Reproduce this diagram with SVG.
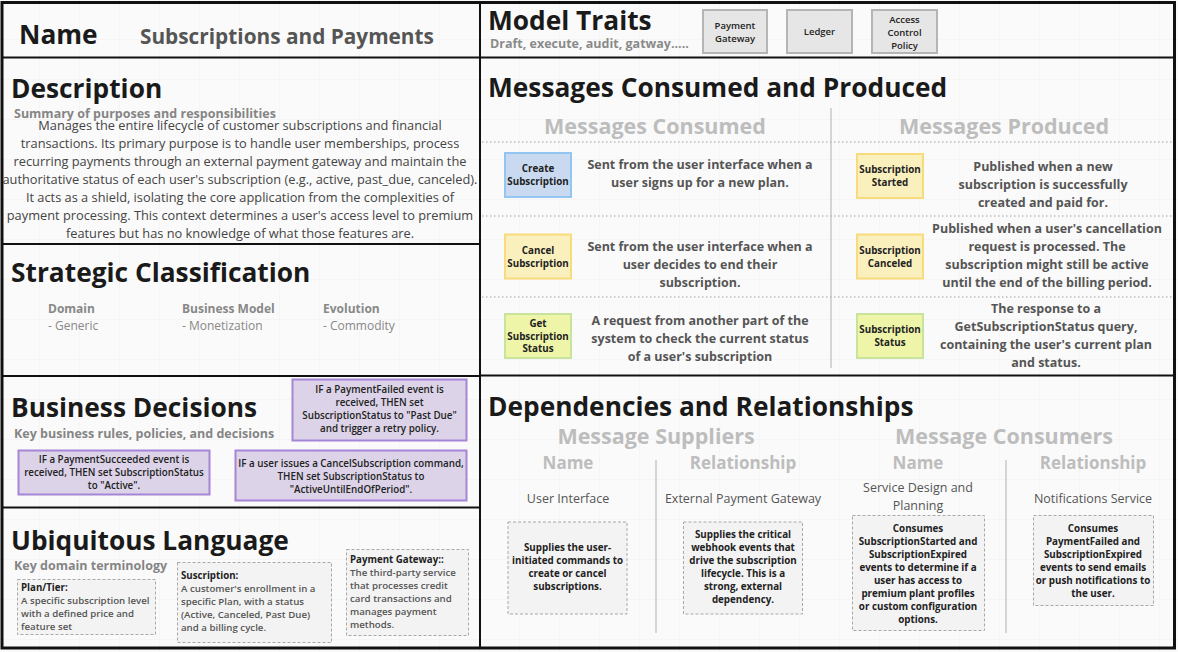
<svg xmlns="http://www.w3.org/2000/svg" width="1178" height="652" viewBox="0 0 1178 652">
  <defs>
    <pattern id="grid" width="40" height="40" patternUnits="userSpaceOnUse">
      <path d="M40 0V40M0 40H40" fill="none" stroke="#f1f1f1" stroke-width="1"/>
    </pattern>
    <style>
      text { font-family: "Open Sans", "Noto Sans", "DejaVu Sans", sans-serif; }
      .title { font-size: 26.3px; font-weight: 700; fill: #1a1a1a; }
      .sub { font-size: 12.5px; font-weight: 700; fill: #858585; }
      .ghost { font-size: 21.5px; font-weight: 700; fill: #bdbdbd; text-anchor: middle; }
      .ghost2 { font-size: 17px; font-weight: 700; fill: #bdbdbd; text-anchor: middle; }
      .body { font-size: 12.8px; fill: #444; text-anchor: middle; }
      .msg { font-size: 12.5px; font-weight: 700; fill: #555; text-anchor: middle; }
      .tag { font-size: 9.8px; font-weight: 700; fill: #222; text-anchor: middle; }
      .rule { font-size: 9.8px; font-weight: 600; fill: #222; text-anchor: middle; }
      .term { font-size: 9.7px; font-weight: 600; fill: #555; }
      .termh { font-size: 9.7px; font-weight: 700; fill: #222; }
      .dep { font-size: 9.8px; font-weight: 700; fill: #222; text-anchor: middle; }
      .depname { font-size: 12.5px; fill: #555; text-anchor: middle; }
      .cls { font-size: 12px; font-weight: 700; fill: #888; }
      .clsv { font-size: 12px; fill: #888; }
      .trait { fill: #e6e6e6; stroke: #b5b5b5; stroke-width: 2; }
      .trait-t { font-size: 9.5px; font-weight: 600; fill: #222; text-anchor: middle; }
      .decision { fill: #dcd3e8; stroke: #a585d6; stroke-width: 2; }
      .note { fill: #f3f3f3; stroke: #a8a8a8; stroke-width: 1; stroke-dasharray: 3 2; }
      .blue { fill: #c9daf0; stroke: #92c5f0; stroke-width: 2; }
      .yellow { fill: #faf0bd; stroke: #f8dc7c; stroke-width: 2; }
      .green { fill: #eef5a9; stroke: #c6e49c; stroke-width: 2; }
      .frame { fill: none; stroke: #111; stroke-width: 2; }
      .dots { stroke: #bcbcbc; stroke-width: 1.5; stroke-dasharray: 1.5 2.5; }
      .vdiv { stroke: #c8c8c8; stroke-width: 1.5; }
    </style>
  </defs>

  <!-- canvas -->
  <rect x="0" y="0" width="1178" height="652" fill="#fafafa"/>
  <rect x="0" y="0" width="1178" height="652" fill="url(#grid)"/>

  <!-- panel frame and dividers -->
  <g id="frame">
    <rect x="2" y="2.5" width="1172.5" height="645.5" fill="none" stroke="#111" stroke-width="3"/>
    <line class="frame" x1="480" y1="2" x2="480" y2="648"/>
    <line class="frame" x1="2" y1="57.5" x2="1175" y2="57.5"/>
    <line class="frame" x1="2" y1="244" x2="480" y2="244"/>
    <line class="frame" x1="2" y1="376" x2="480" y2="376"/>
    <line class="frame" x1="2" y1="507.5" x2="480" y2="507.5"/>
    <line class="frame" x1="480" y1="375.5" x2="1175" y2="375.5"/>
  </g>

  <!-- name -->
  <g id="name">
    <text class="title" x="19" y="44">Name</text>
    <text x="140" y="44" font-size="20.8" font-weight="700" fill="#555">Subscriptions and Payments</text>
  </g>

  <!-- model traits -->
  <g id="model-traits">
    <text class="title" x="488" y="30">Model Traits</text>
    <text x="490" y="48" font-size="12.5" font-weight="700" fill="#8a8a8a">Draft, execute, audit, gatway.....</text>
    <g id="trait-payment-gateway">
      <rect class="trait" x="703" y="10" width="64" height="43"/>
      <text class="trait-t" x="735" y="29">Payment</text>
      <text class="trait-t" x="735" y="42">Gateway</text>
    </g>
    <g id="trait-ledger">
      <rect class="trait" x="787" y="10" width="65" height="43"/>
      <text class="trait-t" x="819.5" y="35">Ledger</text>
    </g>
    <g id="trait-access-control">
      <rect class="trait" x="872" y="10" width="65" height="43"/>
      <text class="trait-t" x="904.5" y="23">Access</text>
      <text class="trait-t" x="904.5" y="36">Control</text>
      <text class="trait-t" x="904.5" y="49">Policy</text>
    </g>
  </g>

  <!-- description -->
  <g id="description">
    <text class="title" x="11" y="98">Description</text>
    <text class="sub" x="14" y="118">Summary of purposes and responsibilities</text>
    <text class="body" x="240" y="130">Manages the entire lifecycle of customer subscriptions and financial</text>
    <text class="body" x="240" y="148">transactions. Its primary purpose is to handle user memberships, process</text>
    <text class="body" x="240" y="166">recurring payments through an external payment gateway and maintain the</text>
    <text class="body" x="240" y="184">authoritative status of each user's subscription (e.g., active, past_due, canceled).</text>
    <text class="body" x="240" y="202">It acts as a shield, isolating the core application from the complexities of</text>
    <text class="body" x="240" y="220">payment processing. This context determines a user's access level to premium</text>
    <text class="body" x="240" y="238">features but has no knowledge of what those features are.</text>
  </g>

  <!-- strategic classification -->
  <g id="strategic-classification">
    <text class="title" x="11" y="282">Strategic Classification</text>
    <text class="cls" x="48" y="313">Domain</text>
    <text class="clsv" x="48" y="330">- Generic</text>
    <text class="cls" x="182" y="313">Business Model</text>
    <text class="clsv" x="182" y="330">- Monetization</text>
    <text class="cls" x="323" y="313">Evolution</text>
    <text class="clsv" x="323" y="330">- Commodity</text>
  </g>

  <!-- business decisions -->
  <g id="business-decisions">
    <text class="title" x="11" y="417">Business Decisions</text>
    <text class="sub" x="14" y="438">Key business rules, policies, and decisions</text>
  </g>
  <g id="rule-payment-failed">
    <rect class="decision" x="292.5" y="379.5" width="174" height="61"/>
    <text class="rule" x="379.5" y="393">IF a PaymentFailed event is</text>
    <text class="rule" x="379.5" y="406">received, THEN set</text>
    <text class="rule" x="379.5" y="419">SubscriptionStatus to "Past Due"</text>
    <text class="rule" x="379.5" y="432">and trigger a retry policy.</text>
  </g>
  <g id="rule-payment-succeeded">
    <rect class="decision" x="18.5" y="450.5" width="191" height="44"/>
    <text class="rule" x="114" y="463">IF a PaymentSucceeded event is</text>
    <text class="rule" x="114" y="476">received, THEN set SubscriptionStatus</text>
    <text class="rule" x="114" y="489">to "Active".</text>
  </g>
  <g id="rule-cancel">
    <rect class="decision" x="235.5" y="450.5" width="231" height="50"/>
    <text class="rule" x="351" y="467">IF a user issues a CancelSubscription command,</text>
    <text class="rule" x="351" y="480">THEN set SubscriptionStatus to</text>
    <text class="rule" x="351" y="493">"ActiveUntilEndOfPeriod".</text>
  </g>

  <!-- ubiquitous language -->
  <g id="ubiquitous-language">
    <text class="title" x="11" y="550">Ubiquitous Language</text>
    <text class="sub" x="14" y="570">Key domain terminology</text>
  </g>
  <g id="term-plan">
    <rect class="note" x="17.5" y="579.5" width="138" height="55"/>
    <text class="termh" x="21" y="591">Plan/Tier:</text>
    <text class="term" x="21" y="604">A specific subscription level</text>
    <text class="term" x="21" y="617">with a defined price and</text>
    <text class="term" x="21" y="630">feature set</text>
  </g>
  <g id="term-subscription">
    <rect class="note" x="177.5" y="562.5" width="154" height="80"/>
    <text class="termh" x="181" y="579">Suscription:</text>
    <text class="term" x="181" y="592">A customer's enrollment in a</text>
    <text class="term" x="181" y="605">specific Plan, with a status</text>
    <text class="term" x="181" y="618">(Active, Canceled, Past Due)</text>
    <text class="term" x="181" y="631">and a billing cycle.</text>
  </g>
  <g id="term-payment-gateway">
    <rect class="note" x="346.5" y="549.5" width="122" height="86"/>
    <text class="termh" x="350" y="563">Payment Gateway::</text>
    <text class="term" x="350" y="576">The third-party service</text>
    <text class="term" x="350" y="589">that processes credit</text>
    <text class="term" x="350" y="602">card transactions and</text>
    <text class="term" x="350" y="615">manages payment</text>
    <text class="term" x="350" y="628">methods.</text>
  </g>

  <!-- messages consumed and produced -->
  <g id="messages">
    <text class="title" x="488" y="97">Messages Consumed and Produced</text>
    <text class="ghost" x="655" y="134">Messages Consumed</text>
    <text class="ghost" x="1004" y="134">Messages Produced</text>
  </g>
  <g id="connectors">
    <line class="vdiv" x1="831" y1="108" x2="831" y2="368"/>
    <line class="dots" x1="482" y1="142" x2="1173" y2="142"/>
    <line class="dots" x1="482" y1="216" x2="1173" y2="216"/>
    <line class="dots" x1="482" y1="297" x2="1173" y2="297"/>
    <line class="vdiv" x1="656" y1="460" x2="656" y2="633"/>
    <line class="vdiv" x1="1006" y1="460" x2="1006" y2="633"/>
  </g>

  <g id="msg-create-subscription">
    <rect class="blue" x="505" y="153" width="66" height="44"/>
    <text class="tag" x="538" y="172">Create</text>
    <text class="tag" x="538" y="184.5">Subscription</text>
    <text class="msg" x="700" y="169">Sent from the user interface when a</text>
    <text class="msg" x="700" y="187">user signs up for a new plan.</text>
  </g>
  <g id="msg-cancel-subscription">
    <rect class="yellow" x="505" y="234.5" width="66" height="44"/>
    <text class="tag" x="538" y="254">Cancel</text>
    <text class="tag" x="538" y="266.5">Subscription</text>
    <text class="msg" x="700" y="251">Sent from the user interface when a</text>
    <text class="msg" x="700" y="269">user decides to end their</text>
    <text class="msg" x="700" y="287">subscription.</text>
  </g>
  <g id="msg-get-subscription-status">
    <rect class="green" x="505" y="314" width="66" height="44"/>
    <text class="tag" x="538" y="327">Get</text>
    <text class="tag" x="538" y="340">Subscription</text>
    <text class="tag" x="538" y="352">Status</text>
    <text class="msg" x="700" y="325">A request from another part of the</text>
    <text class="msg" x="700" y="343">system to check the current status</text>
    <text class="msg" x="700" y="361">of a user's subscription</text>
  </g>

  <g id="msg-subscription-started">
    <rect class="yellow" x="857" y="154" width="66" height="44"/>
    <text class="tag" x="890" y="173">Subscription</text>
    <text class="tag" x="890" y="186">Started</text>
    <text class="msg" x="1043" y="171">Published when a new</text>
    <text class="msg" x="1043" y="189">subscription is successfully</text>
    <text class="msg" x="1043" y="207">created and paid for.</text>
  </g>
  <g id="msg-subscription-canceled">
    <rect class="yellow" x="857" y="234.5" width="66" height="44"/>
    <text class="tag" x="890" y="254">Subscription</text>
    <text class="tag" x="890" y="267">Canceled</text>
    <text class="msg" x="1047" y="233">Published when a user's cancellation</text>
    <text class="msg" x="1047" y="251">request is processed. The</text>
    <text class="msg" x="1047" y="269">subscription might still be active</text>
    <text class="msg" x="1047" y="287">until the end of the billing period.</text>
  </g>
  <g id="msg-subscription-status">
    <rect class="green" x="857" y="314" width="66" height="44"/>
    <text class="tag" x="890" y="333">Subscription</text>
    <text class="tag" x="890" y="346">Status</text>
    <text class="msg" x="1046" y="313">The response to a</text>
    <text class="msg" x="1046" y="331">GetSubscriptionStatus query,</text>
    <text class="msg" x="1046" y="349">containing the user's current plan</text>
    <text class="msg" x="1046" y="367">and status.</text>
  </g>

  <!-- dependencies and relationships -->
  <g id="dependencies">
    <text class="title" x="488" y="416">Dependencies and Relationships</text>
    <text class="ghost" x="656" y="444">Message Suppliers</text>
    <text class="ghost" x="1004" y="444">Message Consumers</text>
    <text class="ghost2" x="568" y="469">Name</text>
    <text class="ghost2" x="743" y="469">Relationship</text>
    <text class="ghost2" x="918" y="469">Name</text>
    <text class="ghost2" x="1093" y="469">Relationship</text>
  </g>
  <g id="supplier-user-interface">
    <text class="depname" x="568" y="503">User Interface</text>
    <rect class="note" x="508" y="522" width="119" height="92"/>
    <text class="dep" x="567.5" y="551">Supplies the user-</text>
    <text class="dep" x="567.5" y="564">initiated commands to</text>
    <text class="dep" x="567.5" y="577">create or cancel</text>
    <text class="dep" x="567.5" y="590">subscriptions.</text>
  </g>
  <g id="supplier-payment-gateway">
    <text class="depname" x="743" y="503">External Payment Gateway</text>
    <rect class="note" x="683.5" y="522" width="119" height="92"/>
    <text class="dep" x="743" y="538">Supplies the critical</text>
    <text class="dep" x="743" y="551">webhook events that</text>
    <text class="dep" x="743" y="564">drive the subscription</text>
    <text class="dep" x="743" y="577">lifecycle. This is a</text>
    <text class="dep" x="743" y="590">strong, external</text>
    <text class="dep" x="743" y="603">dependency.</text>
  </g>
  <g id="consumer-service-design">
    <text class="depname" x="918" y="492">Service Design and</text>
    <text class="depname" x="918" y="510">Planning</text>
    <rect class="note" x="852.5" y="515.5" width="132" height="115"/>
    <text class="dep" x="918" y="532">Consumes</text>
    <text class="dep" x="918" y="545">SubscriptionStarted and</text>
    <text class="dep" x="918" y="558">SubscriptionExpired</text>
    <text class="dep" x="918" y="571">events to determine if a</text>
    <text class="dep" x="918" y="584">user has access to</text>
    <text class="dep" x="918" y="597">premium plant profiles</text>
    <text class="dep" x="918" y="610">or custom configuration</text>
    <text class="dep" x="918" y="623">options.</text>
  </g>
  <g id="consumer-notifications">
    <text class="depname" x="1093" y="503">Notifications Service</text>
    <rect class="note" x="1033.5" y="515.5" width="120" height="90"/>
    <text class="dep" x="1093" y="532">Consumes</text>
    <text class="dep" x="1093" y="545">PaymentFailed and</text>
    <text class="dep" x="1093" y="558">SubscriptionExpired</text>
    <text class="dep" x="1093" y="571">events to send emails</text>
    <text class="dep" x="1093" y="584">or push notifications to</text>
    <text class="dep" x="1093" y="597">the user.</text>
  </g>
</svg>
